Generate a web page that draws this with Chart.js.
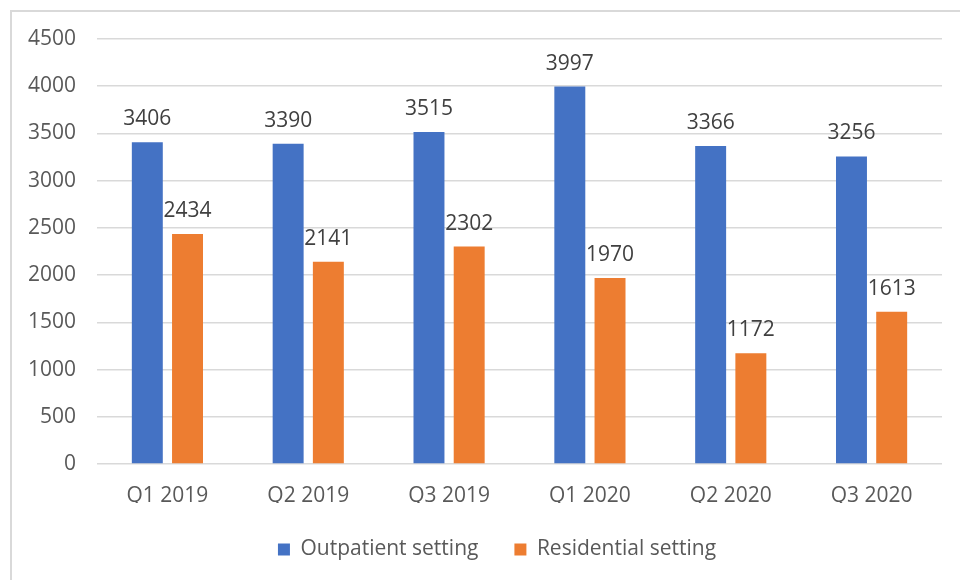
<!DOCTYPE html>
<html>
<head>
<meta charset="utf-8">
<script src="https://cdn.jsdelivr.net/npm/chart.js@4/dist/chart.umd.min.js"></script>
<style>
  html, body { margin: 0; padding: 0; background: #ffffff; overflow: hidden; }
  #frame { position: absolute; left: 10px; top: 10px; width: 980px; height: 600px;
           border: 2px solid #d9d9d9; box-sizing: border-box; }
  #wrap { position: absolute; left: 0; top: 0; width: 960px; height: 580px; }
</style>
</head>
<body>
<div id="frame"></div>
<div id="wrap"><canvas id="chart" width="960" height="580"></canvas></div>
<script>
// Quarterly counts by treatment setting
const quarters = ['Q1 2019', 'Q2 2019', 'Q3 2019', 'Q1 2020', 'Q2 2020', 'Q3 2020'];
const outpatient = [3406, 3390, 3515, 3997, 3366, 3256];
const residential = [2434, 2141, 2302, 1970, 1172, 1613];
const seriesNames = ['Outpatient setting', 'Residential setting'];
const yTicks = [0, 500, 1000, 1500, 2000, 2500, 3000, 3500, 4000, 4500];

const FONT = '"Open Sans", "Liberation Sans", sans-serif';

// Value labels drawn just above each bar
const valueLabels = {
  id: 'valueLabels',
  afterDatasetsDraw(chart) {
    const ctx = chart.ctx;
    ctx.save();
    ctx.font = '21px ' + FONT;
    ctx.fillStyle = '#404040';
    ctx.textAlign = 'center';
    ctx.textBaseline = 'alphabetic';
    chart.data.datasets.forEach((ds, i) => {
      const meta = chart.getDatasetMeta(i);
      meta.data.forEach((bar, j) => {
        ctx.fillText(String(ds.data[j]), bar.x, bar.y - 17);
      });
    });
    ctx.restore();
  }
};

// Nudge the legend row so it sits centred under the plot
const legendOffset = {
  id: 'legendOffset',
  afterLayout(chart) {
    if (chart.legend) {
      chart.legend.left += 26;
      chart.legend.right += 26;
    }
  }
};

new Chart(document.getElementById('chart'), {
  type: 'bar',
  data: {
    labels: quarters,
    datasets: [
      { label: seriesNames[0], data: outpatient, backgroundColor: '#4472C4',
        categoryPercentage: 0.571, barPercentage: 0.77 },
      { label: seriesNames[1], data: residential, backgroundColor: '#ED7D31',
        categoryPercentage: 0.571, barPercentage: 0.77 }
    ]
  },
  options: {
    responsive: false,
    animation: false,
    layout: { padding: { left: 0, right: 18, top: 39, bottom: 10 } },
    plugins: {
      legend: {
        position: 'bottom',
        labels: {
          boxWidth: 12, boxHeight: 12, padding: 36,
          color: '#595959',
          font: { family: FONT, size: 21 }
        }
      },
      tooltip: { enabled: false }
    },
    scales: {
      x: {
        grid: { display: false, drawTicks: false },
        border: { display: false },
        ticks: { color: '#595959', font: { family: FONT, size: 21 }, padding: 19, maxRotation: 0 },
        afterFit(axis) { axis.height = 39; }
      },
      y: {
        min: 0, max: 4500,
        afterBuildTicks(axis) { axis.ticks = yTicks.map(v => ({ value: v })); },
        grid: { color: '#d9d9d9', lineWidth: 1.5, drawTicks: false },
        border: { display: false },
        ticks: {
          color: '#595959', font: { family: FONT, size: 21 }, padding: 21,
          callback: (v) => String(v)
        },
        afterFit(axis) { axis.width = 97; }
      }
    }
  },
  plugins: [valueLabels, legendOffset]
});
</script>
</body>
</html>
